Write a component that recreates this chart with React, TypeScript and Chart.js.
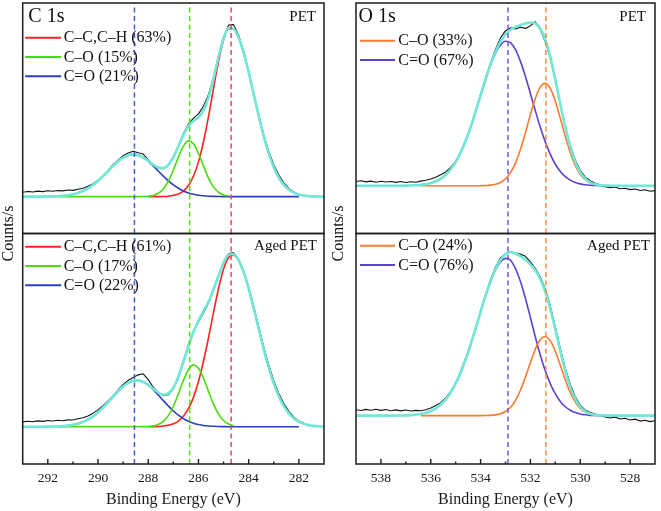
import React, { useEffect, useRef } from 'react';
import { Chart, registerables } from 'chart.js';

Chart.register(...registerables);

const _ = null;
const SERIF = "'Liberation Serif', 'Times New Roman', Times, serif";

// ---------------- C 1s (binding energy grid, eV) ----------------
const c1sEnergy = [
  293.0, 292.8, 292.6, 292.4, 292.2, 292.0, 291.8, 291.6, 291.4, 291.2,
  291.0, 290.8, 290.6, 290.4, 290.2, 290.0, 289.8, 289.6, 289.4, 289.2,
  289.0, 288.8, 288.6, 288.4, 288.2, 288.0, 287.8, 287.6, 287.4, 287.2,
  287.0, 286.8, 286.6, 286.4, 286.2, 286.0, 285.8, 285.6, 285.4, 285.2,
  285.0, 284.8, 284.6, 284.4, 284.2, 284.0, 283.8, 283.6, 283.4, 283.2,
  283.0, 282.8, 282.6, 282.4, 282.2, 282.0, 281.8, 281.6, 281.4, 281.2,
  281.0,
];

// PET
const c1sPetRaw = [
  2.6, 3.1, 2.8, 3.3, 3.0, 3.5, 3.2, 3.6, 3.4, 3.9,
  3.7, 4.4, 5.0, 6.1, 7.6, 9.7, 12.5, 15.6, 18.9, 21.6,
  24.2, 25.8, 26.9, 26.0, 25.2, 21.8, 19.0, 16.9, 16.6, 18.8,
  23.6, 30.2, 37.4, 43.0, 46.5, 49.0, 53.5, 60.5, 70.6, 83.2,
  94.2, 101.5, 101.8, 95.5, 86.0, 74.0, 61.0, 48.2, 36.4, 26.8,
  18.9, 12.8, 8.2, 4.9, 2.8, 1.0, _, _, _, _,
  _,
];
const c1sPetFit = [
  0, 0, 0, 0.02, 0.04, 0.08, 0.15, 0.28, 0.5, 0.85,
  1.4, 2.22, 3.38, 4.95, 6.95, 9.38, 12.17, 15.16, 18.15, 20.89,
  23.08, 24.5, 25.0, 24.52, 23.15, 21.13, 18.91, 17.19, 16.87, 18.88,
  23.42, 29.85, 36.59, 41.82, 44.8, 47.05, 51.1, 58.68, 69.95, 82.78,
  93.77, 99.77, 99.31, 94.1, 85.2, 73.6, 60.7, 47.7, 35.7, 25.5,
  17.4, 11.3, 7.0, 4.2, 2.35, 1.26, 0.65, 0.32, 0.15, 0.06,
  0.03,
];
const c1sPetCC = [
  _, _, _, _, _, _, _, _, _, _,
  _, _, _, _, _, _, _, _, _, _,
  _, _, _, _, _, 0, 0.01, 0.03, 0.1, 0.27,
  0.67, 1.54, 3.31, 6.57, 12.1, 20.6, 32.5, 47.4, 64.0, 80.1,
  92.7, 99.4, 99.2, 94.1, 85.2, 73.6, 60.7, 47.7, 35.7, 25.5,
  17.4, 11.3, 7.0, 4.2, 2.35, 1.26, _, _, _, _,
  _,
];
const c1sPetCO = [
  _, _, _, _, _, _, _, 0, 0, 0,
  0, 0, 0, 0, 0, 0, 0, 0, 0, 0,
  0, 0, 0, 0.02, 0.07, 0.24, 0.75, 2.0, 4.6, 9.2,
  15.8, 23.4, 29.9, 33.0, 31.3, 25.6, 18.1, 11.0, 5.8, 2.6,
  1.03, 0.35, _, _, _, _, _, _, _, _,
  _, _, _, _, _, _, _, _, _, _,
  _,
];
const c1sPetCdO = [
  _, _, _, _, _, _, _, 0.28, 0.5, 0.85,
  1.4, 2.22, 3.38, 4.95, 6.95, 9.38, 12.17, 15.16, 18.15, 20.89,
  23.08, 24.5, 25.0, 24.5, 23.08, 20.89, 18.15, 15.16, 12.17, 9.38,
  6.95, 4.95, 3.38, 2.22, 1.4, 0.85, 0.5, 0.28, 0.15, 0.08,
  0.04, 0.02, 0.01, 0, 0, 0, 0, 0, 0, 0,
  0, 0, 0, 0, 0, 0, _, _, _, _,
  _,
];

// Aged PET
const c1sAgedRaw = [
  2.8, 3.2, 2.9, 3.4, 3.1, 3.6, 3.3, 3.8, 3.5, 4.0,
  3.9, 4.6, 5.2, 6.3, 7.9, 9.8, 12.3, 15.1, 18.0, 21.4,
  24.6, 27.0, 28.6, 30.2, 30.8, 27.4, 23.0, 19.9, 18.0, 18.6,
  22.0, 29.5, 38.4, 47.8, 55.6, 61.0, 66.2, 72.0, 79.6, 88.0,
  95.8, 100.8, 101.2, 97.6, 90.6, 81.2, 70.0, 58.2, 46.5, 36.0,
  26.8, 19.3, 13.5, 9.0, 5.6, 3.3, 2.2, _, _, _,
  _,
];
const c1sAgedFit = [
  0, 0, 0, 0.01, 0.03, 0.05, 0.11, 0.2, 0.37, 0.65,
  1.1, 1.79, 2.8, 4.19, 6.05, 8.37, 11.2, 14.3, 17.5, 20.7,
  23.5, 25.6, 26.8, 27.0, 26.1, 24.4, 22.1, 19.95, 18.65, 19.4,
  22.7, 29.1, 37.7, 46.9, 55.2, 61.7, 67.3, 72.8, 80.0, 88.0,
  95.5, 100.2, 100.4, 96.9, 90.0, 80.4, 69.1, 57.0, 45.2, 34.4,
  25.2, 17.7, 12.0, 7.78, 4.85, 2.91, 1.67, 0.93, 0.49, 0.25,
  0.12,
];
const c1sAgedCC = [
  _, _, _, _, _, _, _, _, _, _,
  _, _, _, _, _, _, _, _, _, _,
  _, _, _, _, _, 0.03, 0.07, 0.16, 0.38, 0.82,
  1.7, 3.32, 6.09, 10.5, 17.1, 26.3, 38.1, 51.8, 66.6, 80.5,
  91.8, 98.6, 99.8, 96.7, 90.0, 80.4, 69.1, 57.0, 45.2, 34.4,
  25.2, 17.7, 12.0, 7.78, 4.85, 2.91, _, _, _, _,
  _,
];
const c1sAgedCO = [
  _, _, _, _, _, _, _, 0, 0, 0,
  0, 0, 0, 0, 0, 0, 0, 0, 0, 0,
  0, 0, 0, 0.01, 0.04, 0.15, 0.47, 1.29, 3.07, 6.45,
  11.8, 19.1, 26.9, 33.2, 36.0, 34.1, 28.4, 20.6, 13.2, 7.36,
  3.61, 1.55, 0.58, _, _, _, _, _, _, _,
  _, _, _, _, _, _, _, _, _, _,
  _,
];
const c1sAgedCdO = [
  _, _, _, _, _, _, _, 0.2, 0.37, 0.65,
  1.1, 1.79, 2.8, 4.19, 6.05, 8.37, 11.2, 14.3, 17.5, 20.7,
  23.5, 25.6, 26.8, 27.0, 26.0, 24.2, 21.6, 18.5, 15.2, 12.1,
  9.17, 6.7, 4.7, 3.17, 2.05, 1.28, 0.76, 0.44, 0.24, 0.12,
  0.07, 0.03, 0.01, 0, 0, 0, 0, 0, 0, 0,
  0, 0, 0, 0, 0, 0, _, _, _, _,
  _,
];

const c1sPeaks = [288.55, 286.35, 284.7];
const c1sRange = [281, 293];
const c1sPetYRange = [-21.8, 114.6];
const c1sAgedYRange = [-21.7, 112.5];
const c1sLegendPet = ['C\u2013C,C\u2013H (63%)', 'C\u2013O (15%)', 'C=O (21%)'];
const c1sLegendAged = ['C\u2013C,C\u2013H (61%)', 'C\u2013O (17%)', 'C=O (22%)'];

// ---------------- O 1s ----------------
const o1sEnergy = [
  539.0, 538.8, 538.6, 538.4, 538.2, 538.0, 537.8, 537.6, 537.4, 537.2,
  537.0, 536.8, 536.6, 536.4, 536.2, 536.0, 535.8, 535.6, 535.4, 535.2,
  535.0, 534.8, 534.6, 534.4, 534.2, 534.0, 533.8, 533.6, 533.4, 533.2,
  533.0, 532.8, 532.6, 532.4, 532.2, 532.0, 531.8, 531.6, 531.4, 531.2,
  531.0, 530.8, 530.6, 530.4, 530.2, 530.0, 529.8, 529.6, 529.4, 529.2,
  529.0, 528.8, 528.6, 528.4, 528.2, 528.0, 527.8, 527.6, 527.4, 527.2,
  527.0,
];

const o1sPetRaw = [
  2.6, 3.1, 2.4, 2.9, 2.2, 2.8, 2.3, 2.7, 2.1, 2.6,
  2.0, 2.5, 2.2, 2.9, 3.4, 4.2, 5.3, 6.8, 8.6, 11.4,
  15.2, 20.5, 27.4, 36.0, 46.3, 56.8, 66.9, 76.4, 85.0, 92.0,
  96.5, 98.2, 97.6, 98.6, 97.9, 99.6, 102.0, 97.0, 89.4, 79.2,
  65.4, 50.6, 36.9, 25.0, 16.0, 9.5, 5.4, 3.1, 1.6, 0.4,
  -0.6, -1.2, -0.8, -1.9, -1.5, -2.4, -2.0, -2.9, -2.5, -3.4,
  -3.0,
];
const o1sPetFit = [
  0, 0, 0, 0, 0, 0, 0, 0.01, 0.02, 0.04,
  0.08, 0.16, 0.3, 0.55, 0.97, 1.67, 2.77, 4.43, 6.87, 10.3,
  14.9, 20.8, 28.0, 36.5, 46.1, 56.2, 66.1, 75.5, 83.4, 89.7,
  94.2, 97.1, 98.8, 99.9, 101.0, 101.6, 101.0, 97.7, 90.8, 80.0,
  66.0, 50.9, 36.5, 24.2, 14.8, 8.36, 4.36, 2.1, 0.93, 0.38,
  0.14, 0.05, 0.02, 0, 0, 0, 0, 0, 0, 0,
  0,
];
const o1sPetCO = [
  _, _, _, _, _, _, _, _, _, _,
  _, _, _, 0, 0, 0, 0, 0, 0, 0,
  0, 0, 0, 0, 0.01, 0.05, 0.14, 0.37, 0.92, 2.07,
  4.28, 8.13, 14.1, 22.5, 33.0, 44.3, 54.5, 61.5, 63.7, 60.5,
  52.6, 42.0, 30.8, 20.7, 12.7, 7.2, 3.73, 1.77, 0.77, 0.31,
  _, _, _, _, _, _, _, _, _, _,
  _,
];
const o1sPetCdO = [
  _, _, _, _, _, _, _, _, _, _,
  _, _, _, 0.55, 0.97, 1.67, 2.77, 4.43, 6.87, 10.3,
  14.9, 20.8, 28.0, 36.5, 46.1, 56.1, 66.0, 75.1, 82.5, 87.6,
  89.9, 89.0, 84.7, 77.4, 68.0, 57.3, 46.5, 36.2, 27.1, 19.5,
  13.4, 8.93, 5.69, 3.49, 2.05, 1.16, 0.63, 0.33, 0.16, 0.07,
  0.03, 0.01, _, _, _, _, _, _, _, _,
  _,
];

const o1sAgedRaw = [
  3.6, 3.1, 3.8, 3.3, 3.9, 3.2, 3.7, 3.0, 3.5, 2.9,
  3.4, 2.8, 3.2, 3.0, 3.6, 4.6, 6.2, 7.9, 10.8, 14.6,
  19.8, 26.6, 34.8, 43.5, 53.0, 63.4, 73.5, 82.6, 90.1, 95.6,
  98.2, 99.4, 98.6, 97.9, 96.6, 93.2, 89.2, 84.0, 76.6, 66.3,
  53.8, 40.7, 28.7, 18.9, 11.5, 6.4, 3.4, 1.9, 1.0, 0.2,
  -0.8, -1.4, -0.9, -2.0, -1.6, -2.6, -2.1, -3.3, -2.8, -3.6,
  -3.1,
];
const o1sAgedFit = [
  0, 0, 0, 0, 0, 0, 0.01, 0.03, 0.05, 0.1,
  0.19, 0.35, 0.62, 1.06, 1.76, 2.83, 4.43, 6.71, 9.86, 14.1,
  19.5, 26.2, 34.1, 43.1, 52.8, 62.9, 72.7, 81.5, 88.9, 94.3,
  97.8, 99.2, 98.3, 96.7, 94.4, 91.7, 88.0, 82.7, 75.0, 64.6,
  52.2, 39.1, 27.1, 17.3, 10.15, 5.42, 2.65, 1.14, 0.46, 0.17,
  0.06, 0.01, 0, 0, 0, 0, 0, 0, 0, 0,
  0,
];
const o1sAgedCO = [
  _, _, _, _, _, _, _, _, _, _,
  _, _, _, 0, 0, 0, 0, 0, 0, 0,
  0, 0, 0, 0, 0, 0.02, 0.06, 0.17, 0.46, 1.13,
  2.5, 5.04, 9.24, 15.4, 23.4, 32.2, 40.5, 46.2, 48.0, 45.3,
  39.0, 30.5, 21.7, 14.0, 8.25, 4.42, 2.15, 0.95, 0.38, 0.14,
  _, _, _, _, _, _, _, _, _, _,
  _,
];
const o1sAgedCdO = [
  _, _, _, _, _, _, _, _, _, _,
  _, _, _, 1.06, 1.76, 2.83, 4.43, 6.71, 9.86, 14.1,
  19.5, 26.2, 34.1, 43.1, 52.8, 62.9, 72.6, 81.3, 88.4, 93.2,
  95.3, 94.2, 89.1, 81.3, 71.0, 59.5, 47.5, 36.5, 27.0, 19.3,
  13.2, 8.6, 5.4, 3.3, 1.9, 1.0, 0.5, 0.19, 0.08, 0.03,
  0.01, _, _, _, _, _, _, _, _, _,
  _,
];

const o1sPeaks = [532.9, 531.38];
const o1sRange = [527, 539];
const o1sPetYRange = [-29.7, 113.7];
const o1sAgedYRange = [-29.3, 110.4];
const o1sLegendPet = ['C\u2013O (33%)', 'C=O (67%)'];
const o1sLegendAged = ['C\u2013O (24%)', 'C=O (76%)'];

// ---------------- styles ----------------
const CYAN = '#6fe8d8';
const RED = '#ff2222';
const GREEN = '#48dc0e';
const BLUE = '#2b3fc0';
const ORANGE = '#ff7a2c';
const PURPLE = '#5d3fd3';

const decoPlugin = {
  id: 'deco',
  afterDatasetsDraw(chart: any, _a: any, o: any) {
    const { ctx, chartArea: ca } = chart;
    const xs = chart.scales.x;
    const yt = chart.scales.yTop;
    const yb = chart.scales.yBot;
    ctx.save();
    ctx.strokeStyle = '#1b1b1b';
    ctx.lineWidth = 1.5;
    for (const s of [yt, yb]) {
      ctx.strokeRect(ca.left, s.top, ca.right - ca.left, s.bottom - s.top);
    }
    ctx.lineWidth = 1.4;
    for (const t of xs.ticks) {
      if (t.value <= xs.min || t.value >= xs.max) continue;
      const px = xs.getPixelForValue(t.value);
      const len = Math.round(t.value) % 2 === 0 ? 5 : 2.5;
      ctx.beginPath();
      ctx.moveTo(px, yb.bottom);
      ctx.lineTo(px, yb.bottom - len);
      ctx.stroke();
    }
    ctx.fillStyle = '#111';
    ctx.font = `20px ${SERIF}`;
    ctx.textAlign = 'left';
    ctx.textBaseline = 'alphabetic';
    ctx.fillText(o.title, ca.left + o.titleDx, yt.top + 19);
    ctx.font = `15px ${SERIF}`;
    ctx.textAlign = 'right';
    ctx.fillText(o.tagTop, ca.right - o.tagTopDx, yt.top + 17.5);
    ctx.fillText(o.tagBot, ca.right - o.tagBotDx, yb.top + 16);

    const drawLegend = (labels: string[], y0: number) => {
      labels.forEach((lab, k) => {
        const y = y0 + k * 19.3;
        ctx.strokeStyle = o.colors[k];
        ctx.lineWidth = 2;
        ctx.beginPath();
        ctx.moveTo(ca.left + o.legX0, y);
        ctx.lineTo(ca.left + o.legX1, y);
        ctx.stroke();
        ctx.font = `16px ${SERIF}`;
        ctx.textAlign = 'left';
        ctx.textBaseline = 'middle';
        ctx.fillStyle = '#111';
        ctx.fillText(lab, ca.left + o.legTX, y + 0.5);
      });
    };
    drawLegend(o.legendTop, yt.top + o.legTopY);
    drawLegend(o.legendBot, yb.top + o.legBotY);

    ctx.translate(o.yTitleX, yt.bottom);
    ctx.rotate(-Math.PI / 2);
    ctx.font = `16px ${SERIF}`;
    ctx.textAlign = 'center';
    ctx.textBaseline = 'middle';
    ctx.fillText('Counts/s', 0, 0);
    ctx.restore();
  },
};

function buildConfig(p: any) {
  const toPts = (ys: (number | null)[]) => p.energy.map((x: number, i: number) => ({ x, y: ys[i] }));
  const datasets: any[] = [];
  const subs: [string, any][] = [['yTop', p.top], ['yBot', p.bot]];
  for (const [axis, s] of subs) {
    p.peaks.forEach((pk: number, k: number) =>
      datasets.push({
        data: [{ x: pk, y: s.range[0] }, { x: pk, y: s.range[1] }],
        yAxisID: axis,
        borderColor: p.dashColors[k],
        borderWidth: 1.5,
        borderDash: [5, 3.5],
        tension: 0,
        order: 0,
      })
    );
    datasets.push({
      data: toPts(s.fit), yAxisID: axis, borderColor: CYAN, borderWidth: 2.6,
      cubicInterpolationMode: 'monotone', order: 1,
    });
    datasets.push({
      data: toPts(s.raw), yAxisID: axis, borderColor: '#141414', borderWidth: 1.1,
      tension: 0, order: 2,
    });
    s.comps.forEach((c: (number | null)[], k: number) =>
      datasets.push({
        data: toPts(c), yAxisID: axis, borderColor: p.colors[k], borderWidth: 1.6,
        cubicInterpolationMode: 'monotone', order: p.compOrder[k],
      })
    );
  }
  return {
    type: 'line',
    data: { datasets },
    options: {
      animation: false,
      responsive: false,
      maintainAspectRatio: false,
      events: [],
      layout: { padding: p.padding },
      elements: { point: { radius: 0 }, line: { fill: false, borderJoinStyle: 'round' } },
      plugins: {
        legend: { display: false },
        tooltip: { enabled: false },
        deco: { ...p.deco, colors: p.colors, legendTop: p.top.legend, legendBot: p.bot.legend },
      },
      scales: {
        x: {
          type: 'linear', position: 'bottom', min: p.xRange[0], max: p.xRange[1], reverse: true,
          grid: { display: false, drawTicks: false },
          border: { display: false },
          afterFit: (scale: any) => { scale.height = 47; },
          ticks: {
            stepSize: 1, autoSkip: false, maxRotation: 0, minRotation: 0, padding: 6,
            color: '#1a1a1a', font: { family: SERIF, size: 13.5 },
            callback: (v: number) => (Math.round(v) % 2 === 0 ? String(v) : ''),
          },
          title: {
            display: true, text: 'Binding Energy (eV)', color: '#1a1a1a',
            font: { family: SERIF, size: 16 }, padding: { top: 4, bottom: 1.5 },
          },
        },
        yTop: {
          type: 'linear', position: 'left', stack: 'spec', stackWeight: 1, weight: 1,
          min: p.top.range[0], max: p.top.range[1], display: false,
        },
        yBot: {
          type: 'linear', position: 'left', stack: 'spec', stackWeight: 1, weight: 0,
          min: p.bot.range[0], max: p.bot.range[1], display: false,
        },
      },
    },
    plugins: [decoPlugin],
  };
}

const c1sCfg = {
  energy: c1sEnergy,
  xRange: c1sRange,
  peaks: c1sPeaks,
  dashColors: ['#3f5fe0', '#55dd22', '#ff3b5c'],
  colors: [RED, GREEN, BLUE],
  compOrder: [5, 3, 4],
  padding: { left: 22.7, right: 5, top: 3, bottom: 0 },
  top: { raw: c1sPetRaw, fit: c1sPetFit, comps: [c1sPetCC, c1sPetCO, c1sPetCdO], range: c1sPetYRange, legend: c1sLegendPet },
  bot: { raw: c1sAgedRaw, fit: c1sAgedFit, comps: [c1sAgedCC, c1sAgedCO, c1sAgedCdO], range: c1sAgedYRange, legend: c1sLegendAged },
  deco: {
    title: 'C 1s', titleDx: 5.6, tagTop: 'PET', tagBot: 'Aged PET', tagTopDx: 8, tagBotDx: 7,
    legX0: 2.5, legX1: 38.5, legTX: 41, legTopY: 34.7, legBotY: 13.2, yTitleX: 8.5,
  },
};

const o1sCfg = {
  energy: o1sEnergy,
  xRange: o1sRange,
  peaks: o1sPeaks,
  dashColors: ['#7b52e0', '#ff8a3d'],
  colors: [ORANGE, PURPLE],
  compOrder: [3, 4],
  padding: { left: 26, right: 4, top: 3, bottom: 0 },
  top: { raw: o1sPetRaw, fit: o1sPetFit, comps: [o1sPetCO, o1sPetCdO], range: o1sPetYRange, legend: o1sLegendPet },
  bot: { raw: o1sAgedRaw, fit: o1sAgedFit, comps: [o1sAgedCO, o1sAgedCdO], range: o1sAgedYRange, legend: o1sLegendAged },
  deco: {
    title: 'O 1s', titleDx: 2.5, tagTop: 'PET', tagBot: 'Aged PET', tagTopDx: 9, tagBotDx: 5,
    legX0: 4, legX1: 39, legTX: 42.3, legTopY: 37.7, legBotY: 12.2, yTitleX: 9,
  },
};

function Panel({ cfg, left, width }: { cfg: any; left: number; width: number }) {
  const ref = useRef<HTMLCanvasElement>(null);
  useEffect(() => {
    const chart = new Chart(ref.current as HTMLCanvasElement, buildConfig(cfg) as any);
    return () => chart.destroy();
  }, []);
  return (
    <canvas
      ref={ref}
      width={width}
      height={511}
      style={{ position: 'absolute', left, top: 0, width, height: 511 }}
    />
  );
}

export default function App() {
  return (
    <div style={{ position: 'fixed', left: 0, top: 0, width: 661, height: 511, background: '#fff', overflow: 'hidden' }}>
      <Panel cfg={c1sCfg} left={0} width={330} />
      <Panel cfg={o1sCfg} left={330} width={331} />
    </div>
  );
}
